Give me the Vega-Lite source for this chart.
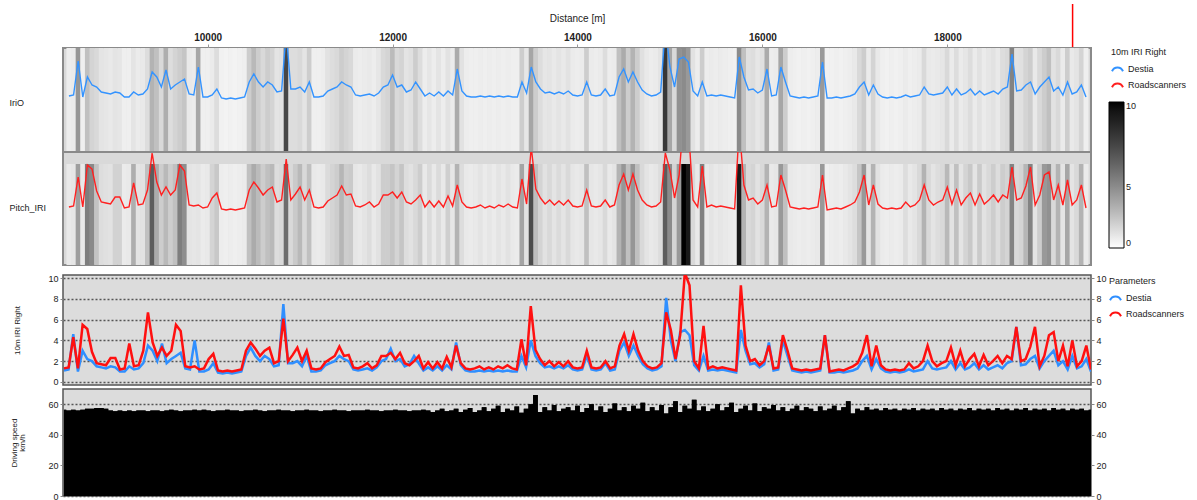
{
"$schema": "https://vega.github.io/schema/vega-lite/v6.json",
"background": "white",
"padding": {"left": 8, "top": 2, "right": 0, "bottom": 0},
"config": {
  "font": "Liberation Sans",
  "axis": {"labelFont": "Liberation Sans", "titleFont": "Liberation Sans", "labelFontSize": 9, "titleFontSize": 9, "labelColor": "#222", "titleColor": "#222", "titleFontWeight": "normal"},
  "legend": {"labelFont": "Liberation Sans", "titleFont": "Liberation Sans", "labelFontSize": 9, "titleFontSize": 9, "titleFontWeight": "normal", "labelColor": "#222", "titleColor": "#222"}
},
"datasets": {"iri": [
{"d":8500,"a":1.1,"b":1.3,"s":56.5},{"d":8550,"a":1.2,"b":1.4,"s":56},{"d":8600,"a":4.6,"b":4.3,"s":56.5},{"d":8650,"a":1.0,"b":1.3,"s":56},{"d":8700,"a":3.0,"b":5.5,"s":56.5},{"d":8750,"a":2.2,"b":5.1,"s":57},{"d":8800,"a":2.0,"b":2.9,"s":57},{"d":8850,"a":1.5,"b":1.8,"s":57.5},{"d":8900,"a":1.4,"b":1.7,"s":57.5},{"d":8950,"a":1.3,"b":1.6,"s":57},
{"d":9000,"a":1.5,"b":2.3,"s":56},{"d":9050,"a":1.4,"b":2.3,"s":55.5},{"d":9100,"a":1.0,"b":1.2,"s":56},{"d":9150,"a":1.0,"b":1.3,"s":55.5},{"d":9200,"a":1.5,"b":3.7,"s":56},{"d":9250,"a":1.2,"b":1.5,"s":55.5},{"d":9300,"a":1.3,"b":1.6,"s":56},{"d":9350,"a":1.8,"b":3.0,"s":56},{"d":9400,"a":3.5,"b":6.7,"s":55.5},{"d":9450,"a":3.0,"b":3.8,"s":56},
{"d":9500,"a":2.0,"b":2.5,"s":56},{"d":9550,"a":3.7,"b":3.3,"s":55.5},{"d":9600,"a":1.8,"b":2.5,"s":56},{"d":9650,"a":2.2,"b":3.0,"s":56.5},{"d":9700,"a":2.5,"b":5.5,"s":56},{"d":9750,"a":2.8,"b":4.9,"s":55.5},{"d":9800,"a":1.3,"b":1.5,"s":56},{"d":9850,"a":1.2,"b":1.4,"s":56},{"d":9900,"a":4.0,"b":1.5,"s":56.5},{"d":9950,"a":1.0,"b":1.2,"s":56},
{"d":10000,"a":1.0,"b":1.3,"s":56.5},{"d":10050,"a":1.2,"b":2.2,"s":56},{"d":10100,"a":1.8,"b":2.7,"s":55.5},{"d":10150,"a":0.9,"b":1.1,"s":56},{"d":10200,"a":0.8,"b":1.0,"s":56},{"d":10250,"a":0.9,"b":1.1,"s":56.5},{"d":10300,"a":0.8,"b":1.0,"s":56},{"d":10350,"a":0.9,"b":1.1,"s":56},{"d":10400,"a":1.0,"b":1.2,"s":55.5},{"d":10450,"a":2.5,"b":3.0,"s":56},
{"d":10500,"a":3.3,"b":3.8,"s":56},{"d":10550,"a":2.5,"b":3.2,"s":56.5},{"d":10600,"a":2.0,"b":2.5,"s":56},{"d":10650,"a":2.5,"b":3.0,"s":55.5},{"d":10700,"a":2.2,"b":3.3,"s":56},{"d":10750,"a":1.5,"b":1.8,"s":56},{"d":10800,"a":1.6,"b":2.0,"s":56.5},{"d":10850,"a":7.5,"b":6.1,"s":56},{"d":10900,"a":1.8,"b":2.0,"s":56},{"d":10950,"a":1.8,"b":2.6,"s":55.5},
{"d":11000,"a":2.0,"b":3.3,"s":56},{"d":11050,"a":1.5,"b":2.0,"s":56},{"d":11100,"a":2.5,"b":3.0,"s":56.5},{"d":11150,"a":1.0,"b":1.3,"s":56},{"d":11200,"a":1.0,"b":1.2,"s":56},{"d":11250,"a":1.1,"b":1.3,"s":55.5},{"d":11300,"a":1.6,"b":1.9,"s":56},{"d":11350,"a":1.8,"b":2.2,"s":56},{"d":11400,"a":2.0,"b":2.5,"s":56.5},{"d":11450,"a":2.5,"b":3.4,"s":56},
{"d":11500,"a":2.2,"b":2.5,"s":56},{"d":11550,"a":2.0,"b":2.6,"s":55.5},{"d":11600,"a":1.2,"b":1.4,"s":56},{"d":11650,"a":1.1,"b":1.3,"s":56},{"d":11700,"a":1.2,"b":1.5,"s":56},{"d":11750,"a":1.3,"b":1.8,"s":56.5},{"d":11800,"a":1.1,"b":1.3,"s":56},{"d":11850,"a":1.4,"b":1.6,"s":56},{"d":11900,"a":2.0,"b":2.5,"s":55.5},{"d":11950,"a":2.2,"b":2.5,"s":56},
{"d":12000,"a":3.2,"b":2.8,"s":56},{"d":12050,"a":2.0,"b":2.2,"s":56.5},{"d":12100,"a":2.2,"b":2.8,"s":56},{"d":12150,"a":1.5,"b":1.8,"s":56},{"d":12200,"a":1.7,"b":1.6,"s":55.5},{"d":12250,"a":2.5,"b":2.0,"s":56},{"d":12300,"a":1.8,"b":2.5,"s":56},{"d":12350,"a":1.1,"b":1.3,"s":56.5},{"d":12400,"a":1.4,"b":1.9,"s":56},{"d":12450,"a":1.1,"b":1.3,"s":55},
{"d":12500,"a":1.5,"b":1.9,"s":56},{"d":12550,"a":1.1,"b":1.3,"s":57},{"d":12600,"a":1.6,"b":2.4,"s":55.5},{"d":12650,"a":1.2,"b":1.4,"s":56},{"d":12700,"a":3.8,"b":3.5,"s":57},{"d":12750,"a":1.6,"b":1.8,"s":55},{"d":12800,"a":1.1,"b":1.3,"s":56.5},{"d":12850,"a":1.0,"b":1.2,"s":57.5},{"d":12900,"a":1.0,"b":1.3,"s":55},{"d":12950,"a":1.1,"b":1.5,"s":56},
{"d":13000,"a":1.0,"b":1.2,"s":58},{"d":13050,"a":1.1,"b":1.4,"s":55.5},{"d":13100,"a":1.0,"b":1.2,"s":57},{"d":13150,"a":1.1,"b":1.5,"s":59},{"d":13200,"a":1.0,"b":1.3,"s":55},{"d":13250,"a":1.1,"b":1.6,"s":57},{"d":13300,"a":1.0,"b":1.3,"s":56},{"d":13350,"a":1.0,"b":1.2,"s":58.5},{"d":13400,"a":2.5,"b":4.1,"s":54.5},{"d":13450,"a":1.4,"b":1.6,"s":57},
{"d":13500,"a":4.0,"b":7.3,"s":60},{"d":13550,"a":2.5,"b":3.1,"s":66},{"d":13600,"a":1.8,"b":2.2,"s":55},{"d":13650,"a":1.4,"b":1.6,"s":58},{"d":13700,"a":1.5,"b":2.0,"s":56},{"d":13750,"a":1.3,"b":1.5,"s":59.5},{"d":13800,"a":1.5,"b":1.9,"s":55.5},{"d":13850,"a":1.3,"b":1.5,"s":57},{"d":13900,"a":1.6,"b":2.0,"s":58},{"d":13950,"a":1.2,"b":1.4,"s":56},
{"d":14000,"a":1.1,"b":1.3,"s":59},{"d":14050,"a":1.2,"b":1.4,"s":55},{"d":14100,"a":2.5,"b":3.0,"s":57.5},{"d":14150,"a":1.2,"b":1.4,"s":60},{"d":14200,"a":1.1,"b":1.3,"s":56},{"d":14250,"a":1.2,"b":1.4,"s":58.5},{"d":14300,"a":1.8,"b":2.0,"s":55},{"d":14350,"a":1.1,"b":1.3,"s":57},{"d":14400,"a":1.2,"b":1.5,"s":60.5},{"d":14450,"a":3.0,"b":3.5,"s":56},
{"d":14500,"a":3.8,"b":4.6,"s":58},{"d":14550,"a":2.5,"b":3.0,"s":55.5},{"d":14600,"a":3.5,"b":4.6,"s":59},{"d":14650,"a":2.5,"b":3.0,"s":57},{"d":14700,"a":1.7,"b":2.0,"s":61},{"d":14750,"a":1.3,"b":1.5,"s":55.5},{"d":14800,"a":1.1,"b":1.3,"s":58},{"d":14850,"a":1.2,"b":1.4,"s":56},{"d":14900,"a":1.5,"b":1.8,"s":59.5},{"d":14950,"a":8.1,"b":6.7,"s":54},
{"d":15000,"a":4.0,"b":5.0,"s":58},{"d":15050,"a":2.0,"b":2.2,"s":62},{"d":15100,"a":4.8,"b":4.5,"s":55},{"d":15150,"a":5.0,"b":10.5,"s":59},{"d":15200,"a":4.5,"b":9.3,"s":57},{"d":15250,"a":1.6,"b":2.0,"s":63},{"d":15300,"a":1.1,"b":1.3,"s":56},{"d":15350,"a":2.5,"b":5.4,"s":58.5},{"d":15400,"a":1.1,"b":1.3,"s":55.5},{"d":15450,"a":1.2,"b":1.5,"s":57},
{"d":15500,"a":1.1,"b":1.3,"s":60},{"d":15550,"a":1.2,"b":1.4,"s":56},{"d":15600,"a":1.1,"b":1.3,"s":58},{"d":15650,"a":1.0,"b":1.2,"s":61},{"d":15700,"a":0.9,"b":1.1,"s":55},{"d":15750,"a":5.0,"b":9.3,"s":57},{"d":15800,"a":3.0,"b":3.5,"s":59},{"d":15850,"a":1.7,"b":2.0,"s":56},{"d":15900,"a":1.8,"b":2.2,"s":60.5},{"d":15950,"a":1.4,"b":1.6,"s":55.5},
{"d":16000,"a":1.7,"b":2.0,"s":58},{"d":16050,"a":3.8,"b":3.5,"s":57},{"d":16100,"a":1.1,"b":1.3,"s":59.5},{"d":16150,"a":1.2,"b":1.4,"s":56},{"d":16200,"a":4.0,"b":4.5,"s":58},{"d":16250,"a":2.5,"b":3.0,"s":55.5},{"d":16300,"a":1.1,"b":1.3,"s":57},{"d":16350,"a":1.0,"b":1.2,"s":59},{"d":16400,"a":0.9,"b":1.1,"s":56},{"d":16450,"a":1.0,"b":1.2,"s":58},
{"d":16500,"a":0.9,"b":1.1,"s":57},{"d":16550,"a":1.0,"b":1.2,"s":55.5},{"d":16600,"a":1.1,"b":1.3,"s":58.5},{"d":16650,"a":4.5,"b":4.5,"s":56},{"d":16700,"a":0.9,"b":1.0,"s":57},{"d":16750,"a":0.9,"b":1.1,"s":59},{"d":16800,"a":1.0,"b":1.2,"s":56},{"d":16850,"a":0.9,"b":1.1,"s":58},{"d":16900,"a":1.0,"b":1.3,"s":62},{"d":16950,"a":1.1,"b":1.5,"s":54},
{"d":17000,"a":1.3,"b":1.8,"s":57},{"d":17050,"a":2.0,"b":2.8,"s":56},{"d":17100,"a":2.5,"b":4.5,"s":58},{"d":17150,"a":1.2,"b":1.5,"s":56.5},{"d":17200,"a":2.2,"b":3.5,"s":57},{"d":17250,"a":1.3,"b":1.6,"s":56},{"d":17300,"a":1.0,"b":1.2,"s":57.5},{"d":17350,"a":0.9,"b":1.1,"s":56.5},{"d":17400,"a":1.0,"b":1.2,"s":57},{"d":17450,"a":0.9,"b":1.1,"s":56},
{"d":17500,"a":1.0,"b":1.2,"s":57},{"d":17550,"a":1.2,"b":1.8,"s":56.5},{"d":17600,"a":1.0,"b":1.3,"s":57.5},{"d":17650,"a":1.1,"b":1.5,"s":56},{"d":17700,"a":1.2,"b":2.0,"s":57},{"d":17750,"a":2.0,"b":3.5,"s":56.5},{"d":17800,"a":1.3,"b":2.0,"s":57},{"d":17850,"a":1.2,"b":1.5,"s":56},{"d":17900,"a":1.3,"b":1.8,"s":57.5},{"d":17950,"a":1.4,"b":2.0,"s":56.5},
{"d":18000,"a":2.0,"b":3.3,"s":57},{"d":18050,"a":1.2,"b":1.6,"s":56},{"d":18100,"a":1.8,"b":3.0,"s":57},{"d":18150,"a":1.2,"b":1.5,"s":56.5},{"d":18200,"a":1.4,"b":2.2,"s":57.5},{"d":18250,"a":1.8,"b":2.7,"s":56},{"d":18300,"a":1.2,"b":1.5,"s":57},{"d":18350,"a":1.6,"b":2.6,"s":56.5},{"d":18400,"a":1.2,"b":1.6,"s":57},{"d":18450,"a":1.4,"b":2.0,"s":56},
{"d":18500,"a":1.6,"b":2.5,"s":57.5},{"d":18550,"a":1.3,"b":1.8,"s":56.5},{"d":18600,"a":1.8,"b":2.5,"s":57},{"d":18650,"a":2.0,"b":2.2,"s":56},{"d":18700,"a":5.3,"b":5.3,"s":57},{"d":18750,"a":1.6,"b":2.0,"s":56.5},{"d":18800,"a":1.7,"b":2.2,"s":57.5},{"d":18850,"a":2.2,"b":3.4,"s":56},{"d":18900,"a":2.5,"b":5.3,"s":57},{"d":18950,"a":1.3,"b":1.5,"s":56.5},
{"d":19000,"a":2.0,"b":2.5,"s":57},{"d":19050,"a":2.5,"b":4.5,"s":56},{"d":19100,"a":3.0,"b":4.8,"s":57.5},{"d":19150,"a":1.6,"b":2.0,"s":56.5},{"d":19200,"a":2.0,"b":3.5,"s":57},{"d":19250,"a":1.2,"b":1.5,"s":56},{"d":19300,"a":2.5,"b":4.0,"s":57},{"d":19350,"a":1.3,"b":1.5,"s":56.5},{"d":19400,"a":1.5,"b":2.0,"s":57},{"d":19450,"a":2.2,"b":3.5,"s":56},
{"d":19500,"a":1.0,"b":1.2,"s":56.5}
]},
"spacing": 7,
"resolve": {"scale": {"x": "independent", "y": "independent", "color": "independent", "stroke": "independent"}, "legend": {"color": "independent", "stroke": "independent"}},
"vconcat": [
 {
  "bounds": "flush",
  "spacing": 0,
  "resolve": {"scale": {"x": "independent", "y": "independent", "color": "independent", "stroke": "independent"}, "legend": {"color": "independent", "stroke": "independent"}},
  "vconcat": [
   {
    "width": 1028, "height": 104,
    "view": {"stroke": "#8a8a8a", "strokeWidth": 2, "fill": "#d9d9d9"},
    "data": {"name": "iri"},
    "layer": [
     {
      "mark": {"type": "bar", "width": 5, "clip": true},
      "encoding": {
       "x": {"field": "d", "type": "quantitative", "scale": {"domain": [8490, 19500], "nice": false, "zero": false},
             "axis": {"orient": "top", "title": "Distance [m]", "format": "d",
                      "values": [10000, 12000, 14000, 16000, 18000],
                      "labelFontWeight": "bold", "labelFontSize": 10, "labelFlush": false,
                      "tickSize": 4, "tickColor": "#999", "domain": false, "grid": false,
                      "labelPadding": 2, "titlePadding": 9, "titleFontSize": 10}},
       "y": {"datum": 5.9, "type": "quantitative", "scale": {"domain": [-4.5, 5.9], "nice": false, "zero": false},
             "axis": {"values": [0.5], "labelExpr": "'IriO'", "ticks": false, "tickSize": 0, "domain": false, "grid": false, "title": null, "labelAlign": "left", "labelPadding": 54, "labelFontSize": 9}},
       "y2": {"datum": -4.5},
       "color": {"field": "a", "type": "quantitative", "scale": {"type": "pow", "exponent": 1.25, "domain": [0, 10], "range": ["#ffffff", "#000000"], "clamp": true},
                 "legend": {"orient": "none", "legendX": 1046, "legendY": 54, "title": null, "direction": "vertical", "values": [0, 5, 10],
                            "gradientLength": 146, "gradientThickness": 15, "gradientStrokeColor": "#000", "gradientStrokeWidth": 1, "labelFontSize": 9}}
      }
     },
     {
      "mark": {"type": "line", "clip": true, "strokeWidth": 1.4},
      "encoding": {
       "x": {"field": "d", "type": "quantitative"},
       "y": {"field": "a", "type": "quantitative"},
       "stroke": {"datum": "Destia", "type": "nominal", "scale": {"domain": ["Destia", "Roadscanners"], "range": ["#3393ff", "#ff2020"]},
                  "legend": {"orient": "none", "legendX": 1048, "legendY": 0, "title": "10m IRI Right", "symbolType": "M-1,0.5C-0.6,-0.4,0.6,-0.4,1,0.5", "symbolStrokeWidth": 2, "symbolSize": 120, "labelFontSize": 9}}
      }
     },
     {
      "data": {"values": [{}]},
      "mark": {"type": "rule", "color": "#ff0000", "strokeWidth": 1.5, "clip": false},
      "encoding": {"x": {"datum": 19355, "type": "quantitative"}, "y": {"datum": 10.3, "type": "quantitative"}, "y2": {"datum": 6.0}}
     }
    ]
   },
   {
    "width": 1028, "height": 113,
    "view": {"stroke": "#8a8a8a", "strokeWidth": 2, "fill": "#d9d9d9"},
    "data": {"name": "iri"},
    "layer": [
     {
      "mark": {"type": "bar", "width": 5, "clip": true},
      "encoding": {
       "x": {"field": "d", "type": "quantitative", "scale": {"domain": [8490, 19500], "nice": false, "zero": false}, "axis": null},
       "y": {"datum": 5.6, "type": "quantitative", "scale": {"domain": [-4.5, 6.8], "nice": false, "zero": false},
             "axis": {"values": [1.3], "labelExpr": "'Pitch_IRI'", "ticks": false, "tickSize": 0, "domain": false, "grid": false, "title": null, "labelAlign": "left", "labelPadding": 54, "labelFontSize": 9}},
       "y2": {"datum": -4.5},
       "color": {"field": "b", "type": "quantitative", "scale": {"type": "pow", "exponent": 1.25, "domain": [0, 10], "range": ["#ffffff", "#000000"], "clamp": true}, "legend": null}
      }
     },
     {
      "mark": {"type": "line", "clip": true, "strokeWidth": 1.4},
      "encoding": {
       "x": {"field": "d", "type": "quantitative"},
       "y": {"field": "b", "type": "quantitative"},
       "stroke": {"datum": "Roadscanners", "type": "nominal", "scale": {"domain": ["Destia", "Roadscanners"], "range": ["#3393ff", "#ff2020"]}, "legend": null}
      }
     }
    ]
   }
  ]
 },
 {
  "bounds": "flush",
  "spacing": 4,
  "resolve": {"scale": {"x": "independent", "y": "independent", "color": "independent", "stroke": "independent"}, "legend": {"color": "independent", "stroke": "independent"}},
  "vconcat": [
   {
    "width": 1028, "height": 110,
    "view": {"stroke": "#555", "strokeWidth": 1.5, "fill": "#dcdcdc"},
    "data": {"name": "iri"},
    "resolve": {"scale": {"y": "independent"}},
    "layer": [
     {
      "mark": {"type": "line", "strokeWidth": 2.5, "clip": true},
      "encoding": {
       "x": {"field": "d", "type": "quantitative", "scale": {"domain": [8490, 19500], "nice": false, "zero": false}, "axis": null},
       "y": {"field": "a", "type": "quantitative", "scale": {"domain": [-0.3, 10.3], "nice": false, "zero": false},
             "axis": {"orient": "left", "values": [0, 2, 4, 6, 8, 10], "title": "10m IRI Right", "titleFontSize": 8, "grid": true, "gridDash": [2, 2], "gridColor": "#555", "gridWidth": 1.5, "tickSize": 3, "domain": false, "titlePadding": 26, "labelPadding": 2}},
       "stroke": {"datum": "Destia", "type": "nominal", "scale": {"domain": ["Destia", "Roadscanners"], "range": ["#2f8fff", "#ff1010"]},
                  "legend": {"orient": "none", "legendX": 1046, "legendY": 2, "title": "Parameters", "symbolType": "M-1,0.5C-0.6,-0.4,0.6,-0.4,1,0.5", "symbolStrokeWidth": 2, "symbolSize": 120, "labelFontSize": 9}}
      }
     },
     {
      "mark": {"type": "line", "strokeWidth": 2.5, "clip": true},
      "encoding": {
       "x": {"field": "d", "type": "quantitative"},
       "y": {"field": "b", "type": "quantitative", "scale": {"domain": [-0.3, 10.3], "nice": false, "zero": false},
             "axis": {"orient": "right", "values": [0, 2, 4, 6, 8, 10], "title": null, "grid": false, "tickSize": 3, "domain": false, "labelPadding": 2}},
       "stroke": {"datum": "Roadscanners", "type": "nominal"}
      }
     }
    ]
   },
   {
    "width": 1028, "height": 107,
    "view": {"stroke": "#555", "strokeWidth": 1.5, "fill": "#dcdcdc"},
    "data": {"name": "iri"},
    "resolve": {"scale": {"y": "independent"}},
    "layer": [
     {
      "mark": {"type": "area", "interpolate": "step", "color": "#000000", "clip": true},
      "encoding": {
       "x": {"field": "d", "type": "quantitative", "scale": {"domain": [8490, 19500], "nice": false, "zero": false}, "axis": null},
       "y": {"field": "s", "type": "quantitative", "scale": {"domain": [0, 70], "nice": false, "zero": false},
             "axis": {"orient": "left", "values": [0, 20, 40, 60], "title": ["Driving speed", "km/h"], "titleFontSize": 8, "titleLineHeight": 8, "grid": true, "gridDash": [2, 2], "gridColor": "#555", "gridWidth": 1.5, "tickSize": 3, "domain": false, "titlePadding": 21, "labelPadding": 2}}
      }
     },
     {
      "mark": {"type": "area", "interpolate": "step", "color": "#000000", "clip": true},
      "encoding": {
       "x": {"field": "d", "type": "quantitative"},
       "y": {"field": "s", "type": "quantitative", "scale": {"domain": [0, 70], "nice": false, "zero": false},
             "axis": {"orient": "right", "values": [0, 20, 40, 60], "title": null, "grid": false, "tickSize": 3, "domain": false, "labelPadding": 2}}
      }
     }
    ]
   }
  ]
 }
]
}
